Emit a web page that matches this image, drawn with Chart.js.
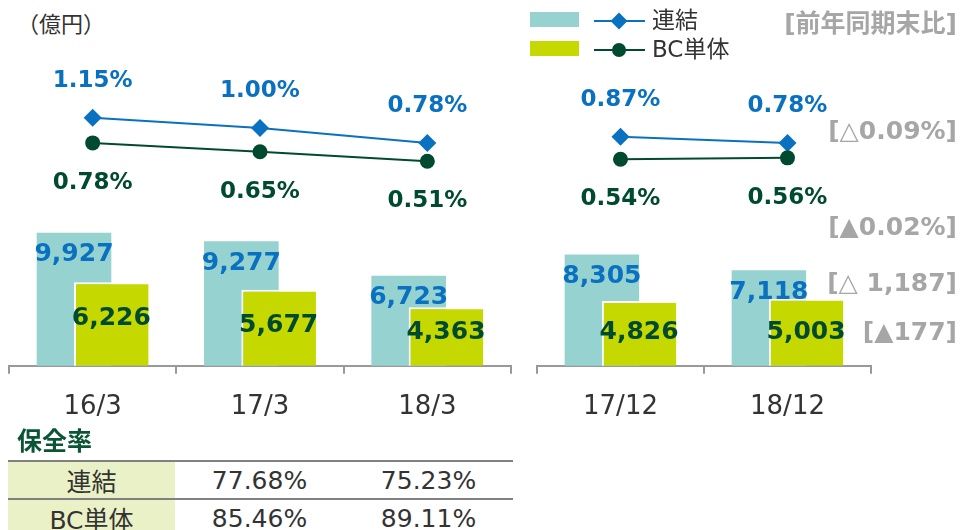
<!DOCTYPE html>
<html>
<head>
<meta charset="utf-8">
<script src="https://cdn.jsdelivr.net/npm/chart.js@4.4.1/dist/chart.umd.min.js"></script>
<style>
  body { margin: 0; width: 964px; height: 530px; position: relative; overflow: hidden; background: #fff;
         font-family: "DejaVu Sans", "Noto Sans CJK JP", sans-serif; color: #333; }
  canvas { position: absolute; top: 0; }
  .abs { position: absolute; white-space: nowrap; }
  .note { right: 7px; font-weight: bold; font-size: 25px; color: #a6a6a6; line-height: 30px; }
  .swatch { width: 49px; height: 15px; }
  .lg-line { width: 51px; height: 2px; }
  .lg-text { font-size: 23px; line-height: 26px; color: #333; }
  #coverTitle { left: 17px; top: 427px; font-size: 25px; font-weight: bold; color: #0a5535; line-height: 30px; }
  table { position: absolute; left: 8px; top: 460px; border-collapse: collapse; font-size: 25px; }
  td { height: 34px; padding: 0; text-align: center; border-top: 2px solid #808080; color: #333; }
  td.head { background: #ebf1c6; width: 167px; }
  td.val { width: 169px; }
</style>
</head>
<body>
<div class="abs" style="left:17px;top:11px;font-size:22px;line-height:28px;">（億円）</div>

<canvas id="leftChart" width="520" height="447" style="left:0"></canvas>
<canvas id="rightChart" width="352" height="447" style="left:528px"></canvas>

<div id="legend"></div>
<div id="notes"></div>

<div id="coverTitle" class="abs">保全率</div>
<table id="coverTable"></table>

<script>
// 期末
const categories = ['16/3', '17/3', '18/3', '17/12', '18/12'];
const splitAt = 3;
const seriesNames = ['連結', 'BC単体'];

// 残高（億円）
const consolidatedLoans = [9927, 9277, 6723, 8305, 7118];
const bcLoans = [6226, 5677, 4363, 4826, 5003];

// 比率（%）
const consolidatedRate = [1.15, 1.00, 0.78, 0.87, 0.78];
const bcRate = [0.78, 0.65, 0.51, 0.54, 0.56];

// 前年同期末比
const changeTitle = '[前年同期末比]';
const changeNotes = ['[△0.09%]', '[▲0.02%]', '[△ 1,187]', '[▲177]'];

// 保全率
const coverageTitle = '保全率';
const coverageConsolidated = ['77.68%', '75.23%'];
const coverageBc = ['85.46%', '89.11%'];

const tealColor = '#96d3d0';
const limeColor = '#c5d800';
const blueColor = '#0a70c0';
const darkGreen = '#004a2f';

// green bar sits on top of the teal one, lines on top of both
const drawOrder = {
  id: 'drawOrder',
  beforeDatasetsDraw(chart) {
    chart.data.datasets.forEach(function (ds, i) {
      chart.getDatasetMeta(i).controller.draw();
    });
    return false;
  }
};

const valueLabels = {
  id: 'valueLabels',
  afterDraw(chart) {
    const ctx = chart.ctx;
    const base = chart.scales.y.getPixelForValue(0);
    ctx.save();
    ctx.textAlign = 'center';
    ctx.textBaseline = 'middle';
    chart.data.datasets.forEach(function (ds, i) {
      chart.getDatasetMeta(i).data.forEach(function (el, j) {
        const v = ds.data[j];
        let text, y;
        if (ds.type === 'line') {
          text = v.toFixed(2) + '%';
          y = ds.labelSide === 'above' ? el.y - 37 : el.y + 40;
          ctx.font = 'bold 23px "DejaVu Sans"';
        } else {
          text = v.toLocaleString('en-US');
          y = i === 0 ? el.y + 22 : Math.min(el.y + 36, base - 33);
          ctx.font = 'bold 25px "DejaVu Sans"';
        }
        ctx.fillStyle = ds.labelColor;
        ctx.fillText(text, el.x, y);
      });
    });
    ctx.restore();
  }
};

function makeChart(id, from, to) {
  const ctx = document.getElementById(id).getContext('2d');
  return new Chart(ctx, {
    type: 'bar',
    data: {
      labels: categories.slice(from, to),
      datasets: [{
        label: seriesNames[0],
        data: consolidatedLoans.slice(from, to),
        backgroundColor: tealColor,
        borderWidth: 0,
        labelColor: blueColor,
        yAxisID: 'y'
      }, {
        label: seriesNames[1],
        data: bcLoans.slice(from, to),
        backgroundColor: limeColor,
        borderColor: '#fff',
        borderWidth: { left: 2, top: 2, right: 0, bottom: 0 },
        borderSkipped: 'start',
        labelColor: darkGreen,
        yAxisID: 'y'
      }, {
        type: 'line',
        label: seriesNames[0],
        data: consolidatedRate.slice(from, to),
        borderColor: blueColor,
        backgroundColor: blueColor,
        borderWidth: 2,
        pointStyle: 'rectRot',
        pointRadius: 9,
        pointBorderWidth: 0,
        labelColor: blueColor,
        labelSide: 'above',
        yAxisID: 'y2'
      }, {
        type: 'line',
        label: seriesNames[1],
        data: bcRate.slice(from, to),
        borderColor: darkGreen,
        backgroundColor: darkGreen,
        borderWidth: 2,
        pointStyle: 'circle',
        pointRadius: 7.5,
        pointBorderWidth: 0,
        labelColor: darkGreen,
        labelSide: 'below',
        yAxisID: 'y2'
      }]
    },
    options: {
      responsive: false,
      animation: false,
      events: [],
      categoryPercentage: 0.446,
      barPercentage: 2.0,
      layout: { padding: { left: 8, right: 8, top: 60, bottom: 6 } },
      plugins: { legend: { display: false }, tooltip: { enabled: false } },
      scales: {
        x: {
          grid: { offset: true, drawOnChartArea: false, drawTicks: true, tickLength: 8, color: '#999', lineWidth: 2 },
          border: { color: '#999', width: 2 },
          ticks: { color: '#333', font: { family: 'DejaVu Sans', size: 26 }, padding: 18 }
        },
        y: { display: false, min: 0, max: 22800 },
        y2: { display: false, min: -2.5, max: 2.0 }
      }
    },
    plugins: [drawOrder, valueLabels]
  });
}

document.addEventListener('DOMContentLoaded', function () {
  makeChart('leftChart', 0, splitAt);
  makeChart('rightChart', splitAt, categories.length);

  // legend
  const legend = document.getElementById('legend');
  legend.innerHTML =
    '<div class="abs swatch" style="left:530px;top:12px;background:' + tealColor + '"></div>' +
    '<div class="abs swatch" style="left:530px;top:41px;background:' + limeColor + '"></div>' +
    '<div class="abs lg-line" style="left:594px;top:20px;background:' + blueColor + '"></div>' +
    '<div class="abs" style="left:613px;top:15px;width:12px;height:12px;transform:rotate(45deg);background:' + blueColor + '"></div>' +
    '<div class="abs lg-line" style="left:594px;top:49px;background:' + darkGreen + '"></div>' +
    '<div class="abs" style="left:612px;top:43px;width:14px;height:14px;border-radius:50%;background:' + darkGreen + '"></div>' +
    '<div class="abs lg-text" style="left:652px;top:7px">' + seriesNames[0] + '</div>' +
    '<div class="abs lg-text" style="left:652px;top:36px">' + seriesNames[1] + '</div>';

  // right-side notes
  const noteTops = [116, 212, 268, 317];
  let html = '<div class="abs note" style="top:9px">' + changeTitle + '</div>';
  changeNotes.forEach(function (t, i) {
    html += '<div class="abs note" style="top:' + noteTops[i] + 'px">' + t + '</div>';
  });
  document.getElementById('notes').innerHTML = html;

  // coverage table
  const rows = [[seriesNames[0]].concat(coverageConsolidated), [seriesNames[1]].concat(coverageBc)];
  document.getElementById('coverTable').innerHTML = rows.map(function (r) {
    return '<tr><td class="head">' + r[0] + '</td><td class="val">' + r[1] + '</td><td class="val">' + r[2] + '</td></tr>';
  }).join('');
});
</script>
</body>
</html>
